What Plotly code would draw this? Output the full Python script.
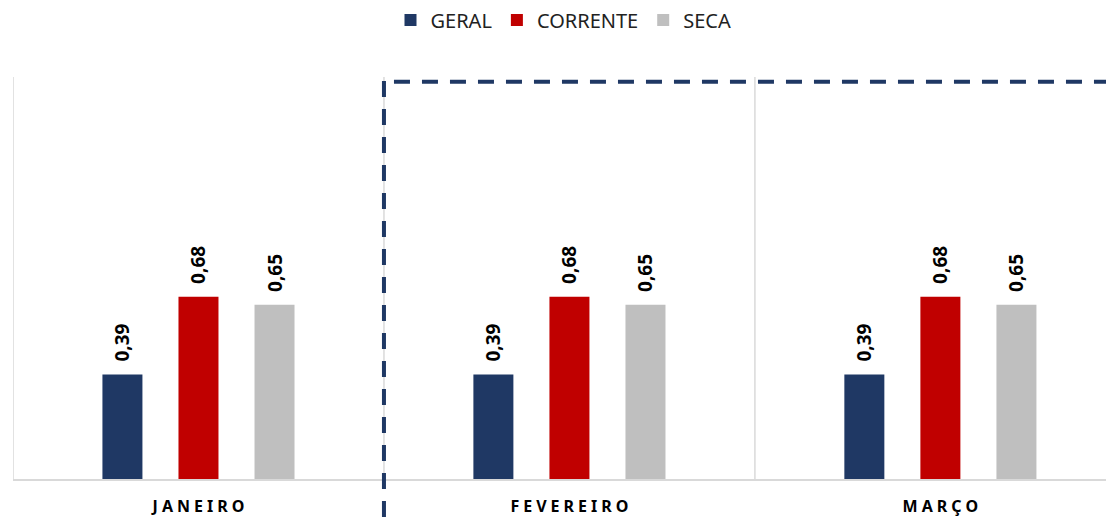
import plotly.graph_objects as go

months = ["JANEIRO", "FEVEREIRO", "MARÇO"]
month_labels = ["\u2005".join(m) for m in months]
geral = [0.39, 0.39, 0.39]
corrente = [0.68, 0.68, 0.68]
seca = [0.65, 0.65, 0.65]

navy = "#1F3864"
red = "#C00000"
grey = "#BFBFBF"
font = "Noto Sans"

fig = go.Figure()
for name, vals, col in [("GERAL", geral, navy), ("CORRENTE", corrente, red), ("SECA", seca, grey)]:
    fig.add_trace(go.Bar(
        x=months, y=vals, name=name, marker=dict(color=col, line=dict(width=0)),
        texttemplate="  %{y:.2f}", textposition="outside", textangle=-90,
        textfont=dict(family=font, size=19, color="black", weight="bold"),
        constraintext="none", cliponaxis=False,
    ))

# category separators
for xv in [-0.5, 0.5, 1.5]:
    fig.add_shape(type="line", xref="x", yref="paper", x0=xv, x1=xv, y0=0, y1=1,
                  line=dict(color="#D9D9D9", width=1.5), layer="below")

# dashed highlight
fig.add_shape(type="line", xref="x", yref="paper", x0=0.5, x1=0.5, y0=0.99, y1=-0.11,
              line=dict(color=navy, width=4, dash="16px,12px"))
fig.add_shape(type="line", xref="x", yref="paper", x0=0.527, x1=2.468, y0=0.988, y1=0.988,
              line=dict(color=navy, width=4, dash="16px,12px"))

fig.update_layout(
    width=1106, height=518,
    margin=dict(l=5, r=0, t=69, b=47, autoexpand=False),
    plot_bgcolor="white", paper_bgcolor="white",
    separators=",.",
    barmode="group", bargap=0.385, bargroupgap=0.474,
    font=dict(family=font, color="#222222"),
    legend=dict(orientation="h", x=0.5, xanchor="center", y=1.142, yanchor="middle",
                font=dict(size=20, family=font, color="#222222"), itemwidth=30,
                traceorder="normal"),
    xaxis=dict(range=[-0.5, 2.468], tickvals=months, ticktext=month_labels,
               showgrid=False, showline=True, linecolor="#D9D9D9", linewidth=2,
               automargin=False, ticklabelstandoff=12,
               ticks="", tickfont=dict(family=font, size=16, color="black", weight="bold")),
    yaxis=dict(range=[0, 1.5], visible=False, showgrid=False, automargin=False),
)

fig.write_html("out.html")
